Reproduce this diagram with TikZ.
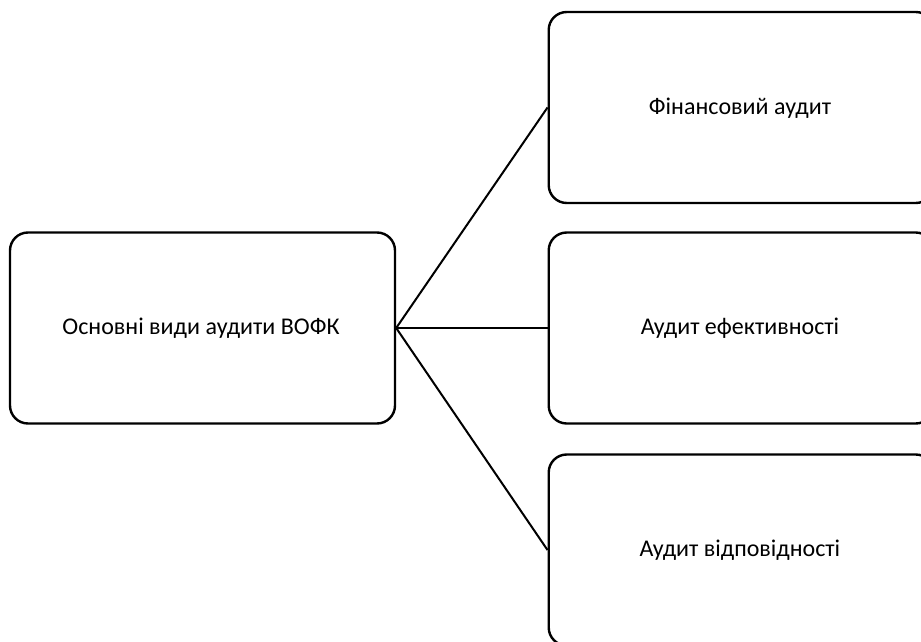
\documentclass[tikz,border=0pt]{standalone}
\usepackage{fontspec}
\setmainfont{Carlito}
\begin{document}
\begin{tikzpicture}[x=1pt,y=-1pt,
  box/.style={draw=black,line width=2.4pt,rounded corners=18pt,minimum width=385pt,minimum height=191pt,inner sep=0pt},
  lbl/.style={font=\fontsize{24}{28}\selectfont,inner sep=0pt},
  link/.style={draw=black,line width=2pt}]
\clip (0,0) rectangle (921,642);
\fill[white] (0,0) rectangle (921,642);
\node[box] (main) at (202.5,328) {};
\node[lbl] (mainT) at (201,328) {Основні види аудити ВОФК};
\node[box,anchor=west] (fin) at (547.5,107.5) {};
\node[lbl] (finT) at (740,108) {Фінансовий аудит};
\node[box,anchor=west] (eff) at (547.5,328) {};
\node[lbl] (effT) at (740,328) {Аудит ефективності};
\node[box,anchor=west] (vid) at (547.5,550) {};
\node[lbl] (vidT) at (740,550) {Аудит відповідності};
\draw[link] (main.east) -- (fin.west);
\draw[link] (main.east) -- (eff.west);
\draw[link] (main.east) -- (vid.west);
\end{tikzpicture}
\end{document}
